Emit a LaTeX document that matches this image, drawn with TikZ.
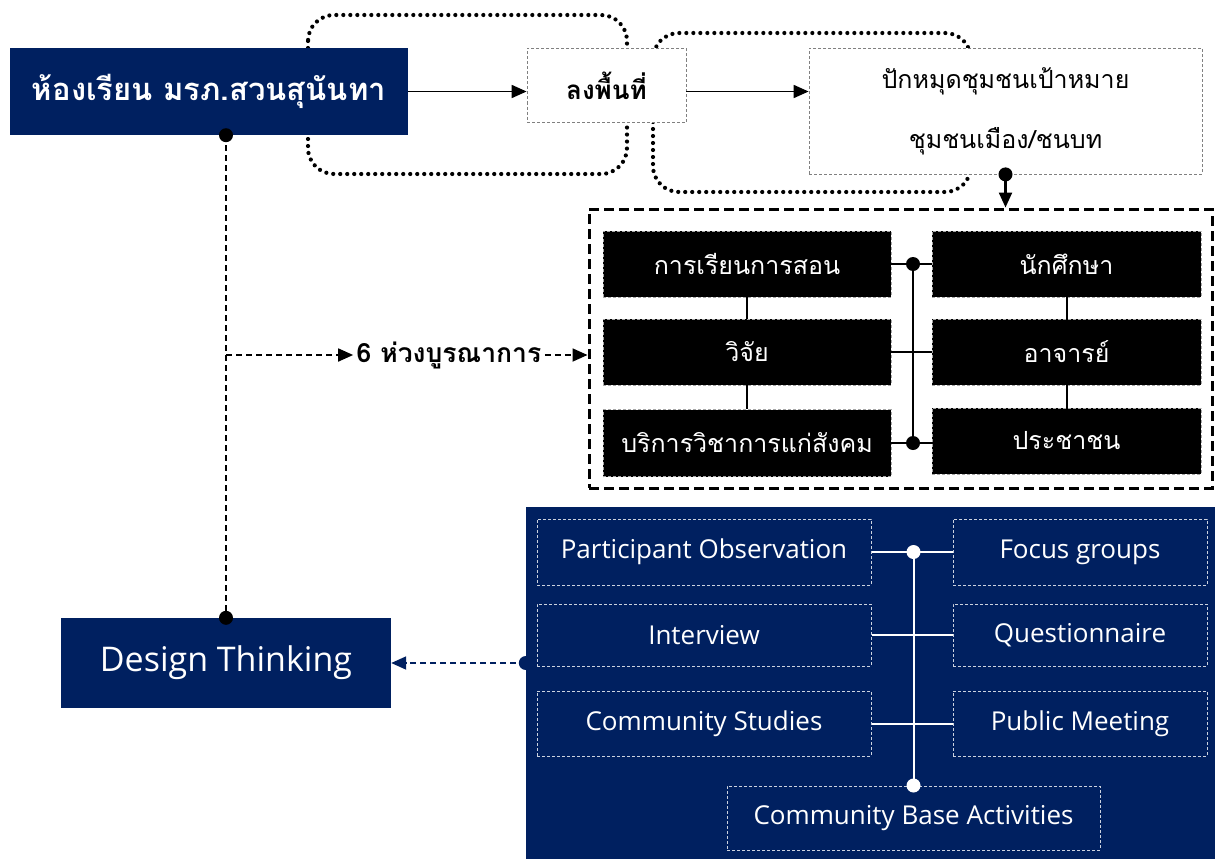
\documentclass[tikz,border=0pt]{standalone}
\usepackage{fontspec}
\setmainfont{Open Sans}
\newfontfamily\thai[Script=Thai]{Loma}
\usepackage{xcolor}
\usetikzlibrary{positioning, calc, arrows.meta}
\definecolor{navy}{RGB}{0,32,96}
\tikzstyle{arrow} = [line width=1.8pt, -{Triangle[length=15pt,width=13pt]}]
\tikzstyle{dotloop} = [line width=4.2pt, line cap=round, dash pattern=on 0pt off 7pt, rounded corners=26pt]
\tikzstyle{dot} = [circle, fill, inner sep=0pt, minimum size=14pt]
\tikzstyle{blackbox} = [draw=gray!70, densely dashed, line width=0.8pt, fill=black, text=white, font=\thai\fontsize{25}{30}\selectfont]
\tikzstyle{methodbox} = [draw=white!80!navy, densely dashed, line width=1pt, text=white, font=\fontsize{26}{30}\selectfont]

\begin{document}
\begin{tikzpicture}[x=1pt, y=-1pt]
    \useasboundingbox (0,0) rectangle (1215,859);

    % Field loops
    \draw[dotloop] (308,15) rectangle (627,174);
    \draw[dotloop] (653,33) rectangle (971,192);

    % Top row
    \node[fill=navy, text=white, minimum width=398pt, minimum height=87pt, font=\thai\bfseries\fontsize{31}{36}\selectfont] (hong) at (209,91.5) {ห้องเรียน มรภ.สวนสุนันทา};
    \node[fill=white, draw=gray, densely dashed, line width=0.8pt, minimum width=159pt, minimum height=74pt, font=\thai\bfseries\fontsize{26}{30}\selectfont] (field) at (606.5,85.5) {ลงพื้นที่};
    \node[fill=white, draw=gray, densely dashed, line width=0.8pt, minimum width=393pt, minimum height=126pt, align=center, font=\thai\fontsize{25}{60}\selectfont] (pin) at (1005.5,111) {ปักหมุดชุมชนเป้าหมาย\\ชุมชนเมือง/ชนบท};
    \draw[arrow] (hong.east) -- (hong.east -| field.west);
    \draw[arrow] (field.east |- hong.east) -- (pin.west |- hong.east);

    % 6 rings frame
    \node[draw, line width=3pt, dash pattern=on 10pt off 5pt, minimum width=623pt, minimum height=279pt] (frame) at (900.5,348.5) {};
    \node[dot] (pindot) at (pin.south) {};
    \draw[arrow, line width=2.4pt] (pindot.center) -- (pindot.center |- frame.north);

    \node[blackbox, minimum width=288pt, minimum height=66pt] (teach) at (747,264) {การเรียนการสอน};
    \node[blackbox, minimum width=288pt, minimum height=66pt] (research) at (747,352) {วิจัย};
    \node[blackbox, minimum width=288pt, minimum height=67pt] (service) at (747,443) {บริการวิชาการแก่สังคม};
    \node[blackbox, minimum width=269pt, minimum height=66pt] (student) at (1066.5,264) {นักศึกษา};
    \node[blackbox, minimum width=269pt, minimum height=66pt] (teacher) at (1066.5,352) {อาจารย์};
    \node[blackbox, minimum width=269pt, minimum height=66pt] (people) at (1066.5,441) {ประชาชน};

    \draw[line width=2pt] (teach) -- (research) -- (service);
    \draw[line width=2pt] (student) -- (teacher) -- (people);
    \draw[line width=2pt] (teach.east) -- (student.west);
    \draw[line width=2pt] (research.east) -- (teacher.west);
    \draw[line width=2pt] (service.east) -- (service.east -| people.west);
    \coordinate (bus1) at (913,264);
    \coordinate (bus3) at (913,443);
    \draw[line width=2pt] (bus1) -- (bus3);
    \node[dot] at (bus1) {};
    \node[dot] at (bus3) {};

    % Design thinking
    \node[fill=navy, text=white, minimum width=330pt, minimum height=90pt, font=\fontsize{34}{40}\selectfont] (design) at (226,663) {Design Thinking};
    \node[dot] (topdot) at (design.north |- hong.south) {};
    \node[dot] (dtdot) at (design.north) {};
    \draw[line width=1.8pt, dash pattern=on 6pt off 4pt] (topdot.center) -- (dtdot.center);

    \node[font=\thai\bfseries\fontsize{26.5}{30}\selectfont] (ring) at (449,355) {6 ห่วงบูรณาการ};
    \draw[arrow, dash pattern=on 6pt off 4pt] (design.north |- ring.west) -- (ring.west);
    \draw[arrow, dash pattern=on 6pt off 4pt] (ring.east) -- (frame.west |- ring.east);

    % Methods panel
    \node[fill=navy, minimum width=689pt, minimum height=352pt] (panel) at (870.5,683) {};
    \node[methodbox, minimum width=334pt, minimum height=66pt] (observe) at (704,552) {Participant Observation};
    \node[methodbox, minimum width=334pt, minimum height=62pt] (interview) at (704,635) {Interview};
    \node[methodbox, minimum width=334pt, minimum height=65pt] (studies) at (704,723.5) {Community Studies};
    \node[methodbox, minimum width=254pt, minimum height=66pt] (focus) at (1080,552) {Focus groups};
    \node[methodbox, minimum width=254pt, minimum height=62pt] (quest) at (1080,635) {Questionnaire};
    \node[methodbox, minimum width=254pt, minimum height=65pt] (meeting) at (1080,723.5) {Public Meeting};
    \node[methodbox, minimum width=373pt, minimum height=64pt] (cba) at (913.5,818) {Community Base Activities};

    \draw[white, line width=2pt] (observe.east) -- (focus.west);
    \draw[white, line width=2pt] (interview.east) -- (quest.west);
    \draw[white, line width=2pt] (studies.east) -- (meeting.west);
    \coordinate (mbus1) at (913.5,552);
    \draw[white, line width=2pt] (mbus1) -- (cba.north);
    \node[dot, white] at (mbus1) {};
    \node[dot, white] at (cba.north) {};

    \node[dot, navy] (pdot) at (panel.west |- design.east) {};
    \draw[arrow, navy, dash pattern=on 6pt off 4pt] (pdot.center) -- (design.east);
\end{tikzpicture}
\end{document}
